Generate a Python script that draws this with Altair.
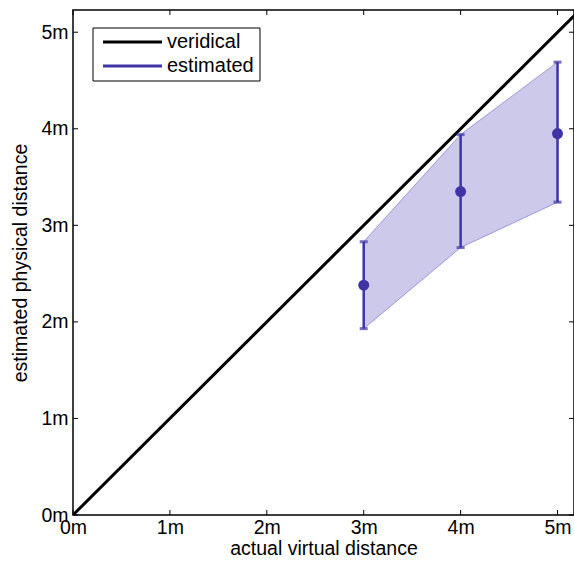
import altair as alt
import pandas as pd

# data
xs = [3, 4, 5]
means = [2.38, 3.35, 3.95]
uppers = [2.83, 3.94, 4.69]
lowers = [1.93, 2.77, 3.24]
ver_x = [0, 5.2]
ticks = [0, 1, 2, 3, 4, 5]
series = ["veridical", "estimated"]

W, H = 501, 505
XMAX, YMAX = 5.17, 5.23
BLUE = "#3e34a6"
FILL = "#ccc9eb"
FONT = "Liberation Sans"
FS = 20

est = pd.DataFrame({"x": xs, "m": means, "u": uppers, "l": lowers})
ver = pd.DataFrame({"x": ver_x, "y": ver_x})
tk = pd.DataFrame({"t": ticks})
one = pd.DataFrame({"k": [0]})

xs_ = alt.Scale(domain=[0, XMAX], nice=False, zero=False)
ys_ = alt.Scale(domain=[0, YMAX], nice=False, zero=False)

xax = alt.Axis(values=ticks, labelExpr="datum.value + 'm'", title="actual virtual distance")
yax = alt.Axis(values=ticks, labelExpr="datum.value + 'm'", title="estimated physical distance")

area = alt.Chart(est).mark_area(fill=FILL, stroke="#8a84d6", strokeWidth=0.8).encode(
    x=alt.X("x:Q", scale=xs_, axis=xax), y=alt.Y("l:Q", scale=ys_, axis=yax), y2="u:Q")

line = alt.Chart(ver).mark_line(strokeWidth=3, clip=True, color="black").encode(
    x=alt.X("x:Q", scale=xs_, axis=xax), y=alt.Y("y:Q", scale=ys_, axis=yax))

bars = alt.Chart(est).mark_rule(strokeWidth=2.5, color=BLUE).encode(
    x="x:Q", y="l:Q", y2="u:Q")
capu = alt.Chart(est).mark_tick(color=BLUE, orient="horizontal", size=8, thickness=3).encode(
    x="x:Q", y="u:Q")
capl = alt.Chart(est).mark_tick(color=BLUE, orient="horizontal", size=8, thickness=3).encode(
    x="x:Q", y="l:Q")
pts = alt.Chart(est).mark_point(filled=True, color=BLUE, size=120, opacity=1).encode(
    x="x:Q", y="m:Q")

tb = alt.Chart(tk).mark_rule(color="black", strokeWidth=1).encode(
    x=alt.X("t:Q", scale=xs_), y=alt.value(H), y2=alt.value(H - 5))
tt = alt.Chart(tk).mark_rule(color="black", strokeWidth=1).encode(
    x=alt.X("t:Q", scale=xs_), y=alt.value(0), y2=alt.value(5))
tl = alt.Chart(tk).mark_rule(color="black", strokeWidth=1).encode(
    y=alt.Y("t:Q", scale=ys_), x=alt.value(0), x2=alt.value(5))
tr = alt.Chart(tk).mark_rule(color="black", strokeWidth=1).encode(
    y=alt.Y("t:Q", scale=ys_), x=alt.value(W), x2=alt.value(W - 5))

# legend box
lbox = alt.Chart(one).mark_rect(fill="white", stroke="black", strokeWidth=1).encode(
    x=alt.value(20), x2=alt.value(187), y=alt.value(18), y2=alt.value(71))
l1 = alt.Chart(one).mark_rule(color="black", strokeWidth=3).encode(
    x=alt.value(30), x2=alt.value(89), y=alt.value(32))
l2 = alt.Chart(one).mark_rule(color=BLUE, strokeWidth=3).encode(
    x=alt.value(30), x2=alt.value(89), y=alt.value(56))
t1 = alt.Chart(one).mark_text(align="left", baseline="middle", font=FONT, fontSize=FS,
                              color="black").encode(
    x=alt.value(94), y=alt.value(32), text=alt.value(series[0]))
t2 = alt.Chart(one).mark_text(align="left", baseline="middle", font=FONT, fontSize=FS,
                              color="black").encode(
    x=alt.value(94), y=alt.value(56), text=alt.value(series[1]))

chart = alt.layer(area, line, bars, capu, capl, pts, tb, tt, tl, tr,
                  lbox, l1, l2, t1, t2).properties(
    width=W, height=H, padding={"left": 73, "top": 10, "right": 0, "bottom": 52},
    autosize=alt.AutoSizeParams(type="none"),
    background="white"
).configure_view(stroke="black", strokeWidth=1.5).configure_axis(
    grid=False, domain=False, ticks=False, labelFontSize=FS - 0.5, titleFontSize=FS - 0.5,
    labelFont=FONT, titleFont=FONT, titleFontWeight="normal",
    labelColor="black", titleColor="black", labelFlush=False
).configure_axisX(labelPadding=3, titlePadding=3).configure_axisY(labelPadding=5, titlePadding=10)

chart.save("out.html", embed_options={"renderer": "svg", "actions": False})
